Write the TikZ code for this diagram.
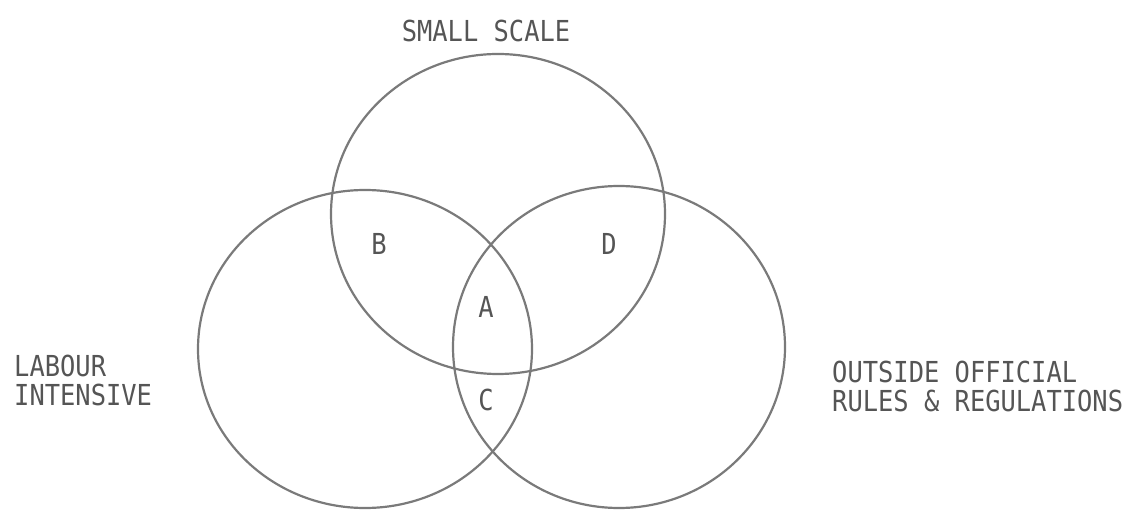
\documentclass[tikz,border=0pt]{standalone}
\usepackage{fontspec}
\newfontfamily\vennfont[FakeStretch=0.88]{DejaVu Sans Mono}
\definecolor{ringgray}{HTML}{7A7A7A}
\definecolor{textgray}{HTML}{555555}
\begin{document}
\begin{tikzpicture}[x=1pt,y=-1pt,
  ring/.style={draw=ringgray,line width=2.2pt},
  lbl/.style={inner sep=0pt,text=textgray,font=\vennfont\fontsize{28.9pt}{31pt}\selectfont},
  side/.style={lbl,align=left,anchor=north west}]
\useasboundingbox (0,0) rectangle (1130,510);
\draw[ring] (498,214) ellipse [x radius=167, y radius=160];
\draw[ring] (365,349) ellipse [x radius=167, y radius=159];
\draw[ring] (619,347) ellipse [x radius=166, y radius=161];
\node[lbl] (ss) at (486,31) {SMALL SCALE};
\node[lbl] (b) at (379,244) {B};
\node[lbl] (d) at (609,244) {D};
\node[lbl] (a) at (486,307) {A};
\node[lbl] (c) at (486,400) {C};
\node[side] (li) at (14,355) {LABOUR\\[-2pt]INTENSIVE};
\node[side] (oo) at (832,361) {OUTSIDE OFFICIAL\\[-2pt]RULES \& REGULATIONS};
\end{tikzpicture}
\end{document}
